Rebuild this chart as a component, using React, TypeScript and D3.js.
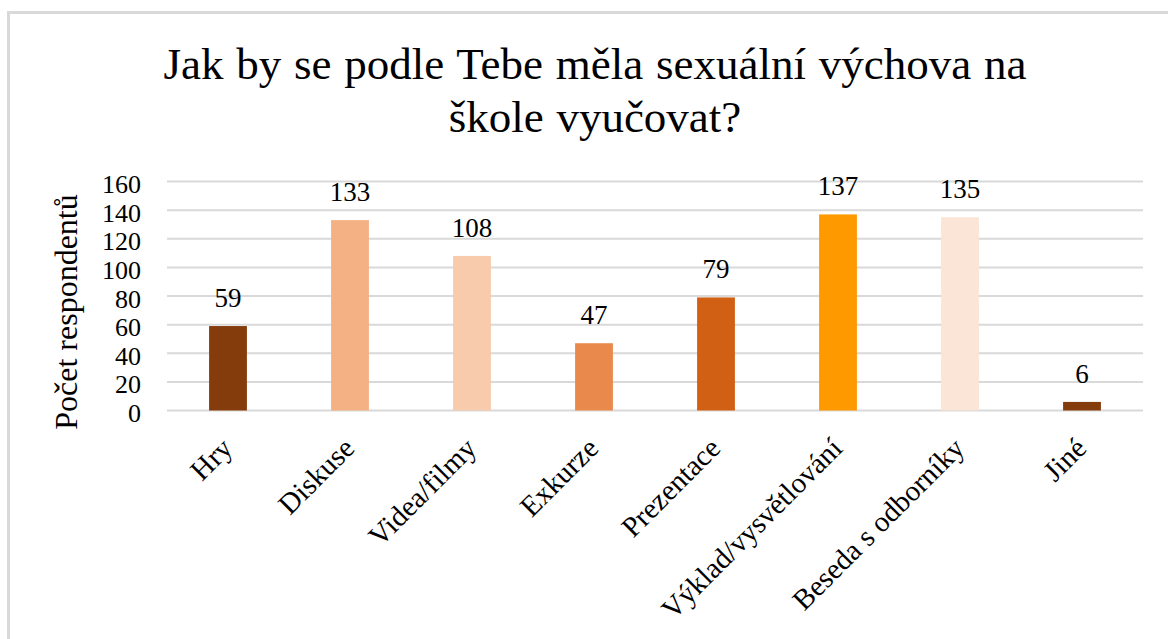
import React from "react";
import * as d3 from "d3";

const titleLines = ["Jak by se podle Tebe měla sexuální výchova na", "škole vyučovat?"];
const categories = ["Hry", "Diskuse", "Videa/filmy", "Exkurze", "Prezentace", "Výklad/vysvětlování", "Beseda s odborníky", "Jiné"];
const values = [59, 133, 108, 47, 79, 137, 135, 6];
const colors = ["#843C0C", "#F4B183", "#F8CBAD", "#E9894C", "#D26014", "#FF9900", "#FBE5D6", "#843C0C"];
const yTicks = [0, 20, 40, 60, 80, 100, 120, 140, 160];
const yAxisTitle = "Počet respondentů";

const W = 1168;
const H = 639;
const FONT = "Liberation Serif, Times New Roman, DejaVu Serif, serif";

export default function App() {
  const x = d3.scaleBand<string>().domain(categories).range([167, 1143]).paddingInner(0.69).paddingOuter(0.345);
  const y = d3.scaleLinear().domain([0, 160]).range([410.5, 181.5]);
  const bw = x.bandwidth();
  const ts = { fontFamily: FONT };

  return (
    <svg width={W} height={H} style={{ position: "absolute", left: 0, top: 0, background: "#fff", fontFamily: FONT }}>
      <rect x={0} y={0} width={W} height={H} fill="#fff" />
      <rect x={8.5} y={12.5} width={W + 20} height={H + 20} fill="none" stroke="#D9D9D9" strokeWidth={3} />
      {titleLines.map((t, i) => (
        <text key={i} x={595} y={79 + i * 53} textAnchor="middle" fontSize={45} wordSpacing={1.5} fill="#000" style={ts}>
          {t}
        </text>
      ))}
      {yTicks.map((t) => (
        <g key={t}>
          <line x1={167} x2={1143} y1={y(t)} y2={y(t)} stroke="#D9D9D9" strokeWidth={2} />
          <text x={141} y={y(t) + 11.5} textAnchor="end" fontSize={26} fill="#000" style={ts}>
            {t}
          </text>
        </g>
      ))}
      <text transform={`translate(77,312) rotate(-90)`} textAnchor="middle" fontSize={32} fill="#000" style={ts}>
        {yAxisTitle}
      </text>
      {categories.map((c, i) => {
        const x0 = x(c)!;
        const cx = x0 + bw / 2;
        return (
          <g key={c}>
            <rect x={x0} y={y(values[i])} width={bw} height={y(0) - y(values[i])} fill={colors[i]} />
            <text x={cx} y={y(values[i]) - 19} textAnchor="middle" fontSize={27} fill="#000" style={ts}>
              {values[i]}
            </text>
            <text
              transform={`translate(${cx + 6},450) rotate(-45)`}
              textAnchor="end"
              fontSize={29}
              fill="#000"
              style={ts}
            >
              {c}
            </text>
          </g>
        );
      })}
    </svg>
  );
}
